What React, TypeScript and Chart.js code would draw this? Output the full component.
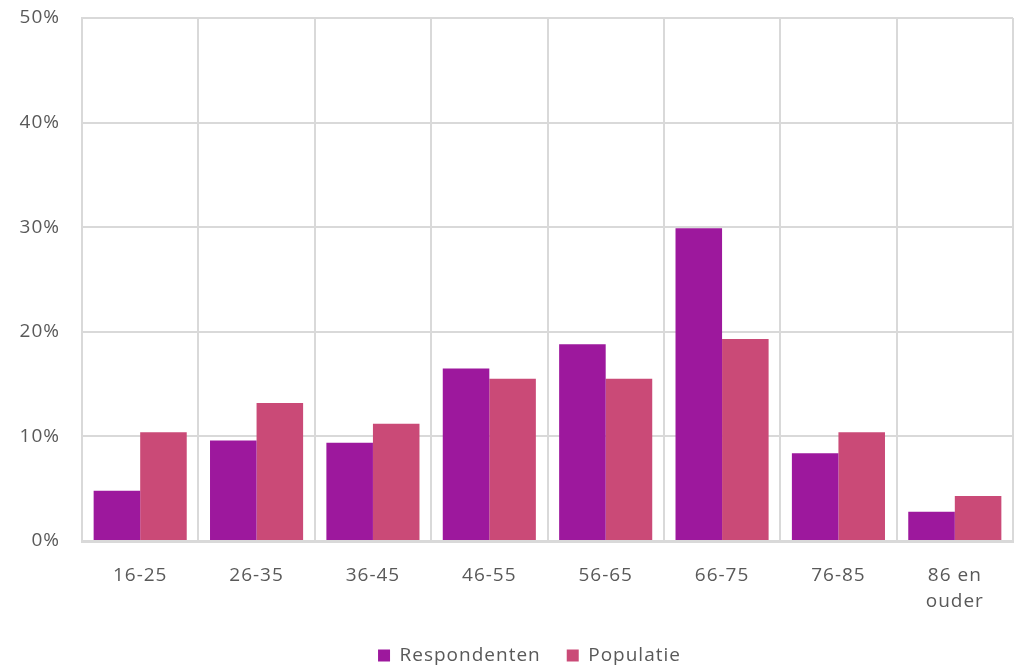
import React, { useEffect, useRef } from "react";
import { Chart, registerables } from "chart.js";

Chart.register(...registerables);

const categories: (string | string[])[] = ["16-25", "26-35", "36-45", "46-55", "56-65", "66-75", "76-85", ["86 en", "ouder"]];
const respondenten = [4.8, 9.6, 9.4, 16.5, 18.8, 29.9, 8.4, 2.8];
const populatie = [10.4, 13.2, 11.2, 15.5, 15.5, 19.3, 10.4, 4.3];
const seriesNames = ["Respondenten", "Populatie"];
const seriesColors = ["#9D189D", "#CA4A77"];

const FONT = "'Open Sans', 'Noto Sans', sans-serif";
const TEXT = "#595959";
const GRID = "#d9d9d9";

const spacingPlugin = {
  id: "letterSpacing",
  beforeUpdate(chart: any) {
    (chart.ctx as any).letterSpacing = "1px";
  },
  beforeDraw(chart: any) {
    (chart.ctx as any).letterSpacing = "1px";
  },
};

const legendShiftPlugin = {
  id: "legendShift",
  afterLayout(chart: any) {
    if (chart.legend) {
      chart.legend.left += 23;
      chart.legend.right += 23;
    }
  },
};

export default function App() {
  const ref = useRef<HTMLCanvasElement | null>(null);
  useEffect(() => {
    if (!ref.current) return;
    const chart = new Chart(ref.current, {
      type: "bar",
      data: {
        labels: categories as any,
        datasets: [
          { label: seriesNames[0], data: respondenten, backgroundColor: seriesColors[0], borderWidth: 0 },
          { label: seriesNames[1], data: populatie, backgroundColor: seriesColors[1], borderWidth: 0 },
        ],
      },
      plugins: [spacingPlugin, legendShiftPlugin],
      options: {
        animation: false,
        responsive: false,
        maintainAspectRatio: false,
        layout: { padding: { top: 18, right: 6, bottom: -9, left: 0 } },
        datasets: { bar: { categoryPercentage: 0.8, barPercentage: 1.0 } },
        plugins: {
          tooltip: { enabled: false },
          legend: {
            position: "bottom",
            labels: {
              color: TEXT,
              font: { family: FONT, size: 19 },
              boxWidth: 12,
              boxHeight: 12,
              padding: 26,
            },
          },
        },
        scales: {
          x: {
            grid: { display: true, color: GRID, lineWidth: 2, offset: true, drawTicks: false },
            border: { display: true, color: GRID, width: 3 },
            ticks: { color: TEXT, font: { family: FONT, size: 19, lineHeight: 1.35 }, padding: 22, maxRotation: 0, autoSkip: false },
            afterFit(scale: any) {
              scale.height = 79;
              scale.paddingLeft = 0;
              scale.paddingRight = 0;
            },
          },
          y: {
            min: 0,
            max: 50,
            ticks: {
              stepSize: 10,
              color: TEXT,
              font: { family: FONT, size: 19 },
              padding: 22,
              callback: (v: any) => v + "%",
            },
            grid: { display: true, color: GRID, lineWidth: 2, drawTicks: false },
            border: { display: true, color: GRID, width: 2 },
            afterFit(scale: any) {
              scale.width = 82;
              scale.paddingTop = 0;
              scale.paddingBottom = 0;
            },
          },
        },
      },
    });
    return () => chart.destroy();
  }, []);
  return (
    <div style={{ position: "absolute", left: 0, top: 0, width: 1019, height: 666, background: "#fff" }}>
      <canvas ref={ref} width={1019} height={666} style={{ width: 1019, height: 666, display: "block" }} />
    </div>
  );
}
